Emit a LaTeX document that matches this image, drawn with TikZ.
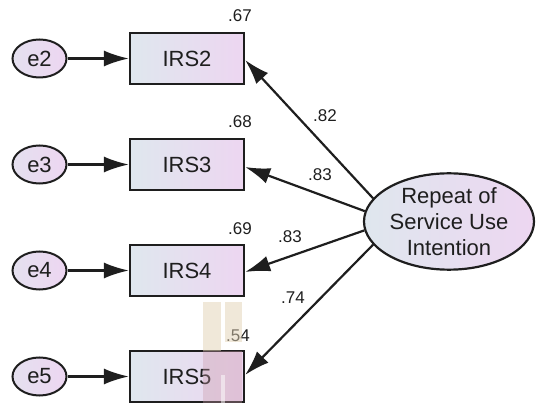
\documentclass[tikz,border=0pt]{standalone}
\usepackage{fontspec}
\setmainfont{Liberation Sans}
\usetikzlibrary{arrows.meta,shapes.geometric}
\definecolor{fillL}{HTML}{DFE7EE}
\definecolor{fillR}{HTML}{EDD6F1}
\definecolor{ink}{HTML}{1E1E1E}
\definecolor{wmark}{HTML}{E2D2B4}
\definecolor{wrose}{HTML}{C99AA8}
\tikzset{
  obsbox/.style={draw=ink, line width=2.2pt, minimum width=114pt, minimum height=51pt,
    left color=fillL, right color=fillR, inner sep=0pt,
    font=\fontsize{22}{25}\selectfont, text=ink},
  errnode/.style={ellipse, draw=ink, line width=2pt, minimum width=54pt, minimum height=38pt,
    left color=fillL!60!fillR, right color=fillR, inner sep=0pt,
    font=\fontsize{22}{25}\selectfont, text=ink},
  latnode/.style={ellipse, draw=ink, line width=2.2pt, minimum width=170pt, minimum height=76pt,
    left color=fillL, right color=fillR, inner sep=0pt, align=center,
    font=\fontsize{22}{26}\selectfont, text=ink},
  conn/.style={draw=ink, line width=2.2pt, -{Latex[length=25pt,width=16pt]}},
  lbl/.style={font=\fontsize{17}{20}\selectfont, text=ink, inner sep=0pt}
}
\begin{document}
\begin{tikzpicture}[x=1pt,y=-1pt]
\useasboundingbox (0,0) rectangle (536,403);
% latent
\node[latnode] (R) at (449,221.5) {Repeat of\\Service Use\\Intention};
% boxes
\node[obsbox] (b2) at (187,58.5) {IRS2};
\node[obsbox] (b3) at (187,164.5) {IRS3};
\node[obsbox] (b4) at (187,270.5) {IRS4};
\node[obsbox] (b5) at (187,376.5) {IRS5};
% errors
\node[errnode] (e2) at (39.5,58.5) {e2};
\node[errnode] (e3) at (39.5,164.5) {e3};
\node[errnode] (e4) at (39.5,270.5) {e4};
\node[errnode] (e5) at (39.5,376.5) {e5};
% error arrows
\draw[conn] (e2) -- (b2);
\draw[conn] (e3) -- (b3);
\draw[conn] (e4) -- (b4);
\draw[conn] (e5) -- (b5);
% loadings
\draw[conn] (R.163) -- ([yshift=-1.5pt]b2.east);
\draw[conn] (R.173.5) -- ([yshift=-2.5pt]b3.east);
\draw[conn] (R.186.5) -- ([yshift=-1.5pt]b4.east);
\draw[conn] (R.197) -- ([yshift=1.5pt]b5.east);
% labels
\node[lbl] (l2) at (240,16) {.67};
\node[lbl] (l3) at (240,122) {.68};
\node[lbl] (l4) at (240,229) {.69};
\node[lbl] (l5) at (238,336) {.54};
\node[lbl] (p2) at (325,116) {.82};
\node[lbl] (p3) at (320,175) {.83};
\node[lbl] (p4) at (290,237) {.83};
\node[lbl] (p5) at (293,298) {.74};
% watermark overlay
\fill[wmark, opacity=0.5] (203,302) rectangle (221,351);
\fill[wmark, opacity=0.5] (225,302) rectangle (242,342);
\fill[wrose, opacity=0.35] (203,351) rectangle (242,403);
\fill[white, opacity=0.5] (221,375) rectangle (225,403);
\end{tikzpicture}
\end{document}
